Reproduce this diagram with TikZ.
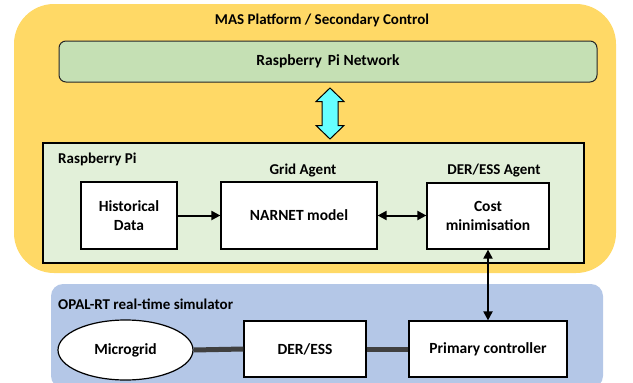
\documentclass[tikz,border=0pt]{standalone}
\usepackage{fontspec}
\setmainfont{Carlito}
\usetikzlibrary{arrows.meta,shapes.geometric,calc}
\definecolor{masyel}{HTML}{FFD966}
\definecolor{netgreen}{HTML}{C5E0B4}
\definecolor{pigreen}{HTML}{E2F0D9}
\definecolor{opalblue}{HTML}{B4C7E7}
\definecolor{cyanarr}{HTML}{66FFFF}
\definecolor{linkgray}{HTML}{404040}
\tikzset{
  boxtxt/.style={font=\fontsize{15.5}{19}\selectfont\bfseries},
  lbltxt/.style={font=\fontsize{15}{18}\selectfont\bfseries, inner sep=0pt},
  whitebox/.style={draw=black, line width=1.2pt, fill=white, align=center, boxtxt, inner sep=0pt},
  blkarrow/.style={line width=2pt, -{Triangle[length=9pt,width=9pt]}},
  blkdouble/.style={line width=2pt, {Triangle[length=9pt,width=9pt]}-{Triangle[length=9pt,width=9pt]}},
  thicklink/.style={line width=5pt, draw=linkgray},
  fatarrow/.style={fill=cyanarr, draw=black, line width=1pt, line join=miter}
}
\begin{document}
\begin{tikzpicture}[x=1pt,y=-1pt]
\useasboundingbox (0,0) rectangle (633,383);
% containers
\node[fill=masyel, rounded corners=40pt, minimum width=602pt, minimum height=269pt, inner sep=0pt] (mas) at (315,138.5) {};
\node[lbltxt] (mastitle) at (322,20) {MAS Platform / Secondary Control};
\node[fill=netgreen, draw=black!85, line width=1pt, rounded corners=7pt, minimum width=538pt, minimum height=41pt, inner sep=0pt, boxtxt] (net) at (328,61.5) {Raspberry\,\ Pi Network};
\node[fill=pigreen, draw=black, line width=1.2pt, minimum width=541pt, minimum height=120pt, inner sep=0pt] (rpi) at (313.5,203) {};
\node[lbltxt, anchor=west] (rpilbl) at (58,159) {Raspberry Pi};
% cyan double arrow between the network bar and the Raspberry Pi box
\coordinate (lt) at (330,88);
\coordinate (lb) at (330,139);
\draw[fatarrow] (lt) -- ($(lt)+(14,13.5)$) -- ($(lt)+(8,13.5)$) -- ($(lb)+(8,-13.5)$) -- ($(lb)+(14,-13.5)$) -- (lb)
  -- ($(lb)+(-14,-13.5)$) -- ($(lb)+(-8,-13.5)$) -- ($(lt)+(-8,13.5)$) -- ($(lt)+(-14,13.5)$) -- cycle;
% raspberry pi contents
\node[whitebox, minimum width=96pt, minimum height=67pt] (hist) at (129,215.5) {Historical\\Data};
\node[whitebox, minimum width=156pt, minimum height=67pt] (narnet) at (299,215.5) {NARNET model};
\node[whitebox, minimum width=122pt, minimum height=66pt] (cost) at (488,216) {Cost\\minimisation};
\node[lbltxt] (gridlbl) at (303,171) {Grid Agent};
\node[lbltxt] (derlbl) at (494,171) {DER/ESS Agent};
% OPAL-RT
\node[fill=opalblue, rounded corners=12pt, minimum width=552pt, minimum height=104pt, inner sep=0pt] (opal) at (327,336) {};
\node[lbltxt, anchor=west] (opallbl) at (58,304) {OPAL-RT real-time simulator};
\node[ellipse, draw=black, line width=1.2pt, fill=white, minimum width=135pt, minimum height=60pt, inner sep=0pt, boxtxt] (mg) at (125.5,350) {Microgrid};
\node[whitebox, minimum width=122pt, minimum height=56pt] (der) at (305,349) {DER/ESS};
\node[whitebox, minimum width=158pt, minimum height=56pt] (prim) at (488,349) {Primary controller};
% connectors
\draw[blkarrow] (hist.east) -- (narnet.west);
\draw[blkdouble] (narnet.east) -- (narnet.east -| cost.west);
\draw[blkdouble] (cost.south) -- (prim.north);
\draw[thicklink] (mg.east) -- (der.west);
\draw[thicklink] (der.east) -- (prim.west);
\end{tikzpicture}
\end{document}
